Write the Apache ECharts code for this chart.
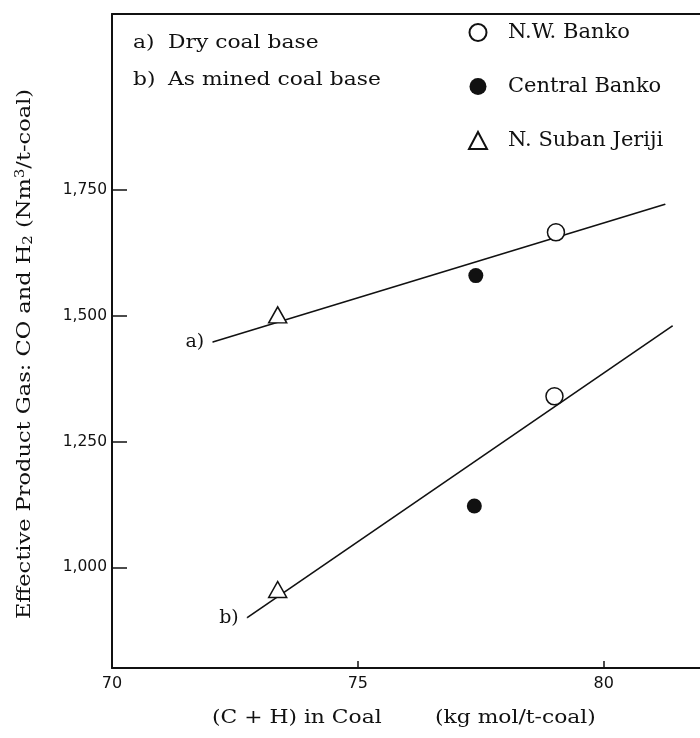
<!DOCTYPE html>
<html>
<head>
<meta charset="utf-8">
<script src="https://cdn.jsdelivr.net/npm/echarts@6/dist/echarts.min.js"></script>
<style>
  html, body { margin: 0; background: #fff; }
  #main { width: 700px; height: 738px; }
</style>
</head>
<body>
<!-- chart container -->
<div id="main"></div>
<script>
// x: (C + H) in coal, kg mol/t-coal ; y: effective product gas, Nm3/t-coal
// each coal: [a) dry base, b) as mined base]
const nwBanko = [[79.03, 1666], [79.0, 1340]]
const centralBanko = [[77.4, 1580], [77.37, 1122]]
const subanJeriji = [[73.37, 1502], [73.37, 956]]

// the two straight lines as drawn
const lineA = [[72.05, 1448], [81.25, 1722]]
const lineB = [[72.75, 900], [81.4, 1480]]

const xLabels = [70, 75, 80]
const xTicks = [75, 80]
const yTicks = [1000, 1250, 1500, 1750]

const ink = '#111'
const serif = 'DejaVu Serif'

function withStartLabel(points, text) {
  return points.map((p, i) => i === 0
    ? { value: p, label: { show: true, formatter: text, position: 'left', distance: 8,
        fontFamily: serif, fontSize: 19, color: ink } }
    : p)
}

// scanned lettering is wider than DejaVu Serif, so stretch it a little
function wideText(x, y, text, opts) {
  return Object.assign({
    type: 'text', x: x, y: y, scaleX: 1.18,
    style: { text: text, fontFamily: serif, fontSize: 18.5, fill: ink, verticalAlign: 'middle' }
  }, opts || {})
}

const chart = echarts.init(document.getElementById('main'))

const option = {
  animation: false,
  backgroundColor: '#fff',
  grid: { left: 112, right: -3, top: 14, bottom: 70 },
  legend: {
    data: ['N.W. Banko', 'Central Banko', 'N. Suban Jeriji'],
    orient: 'vertical',
    left: 463,
    top: 17,
    itemWidth: 18,
    itemHeight: 17,
    itemGap: 33,
    selectedMode: false,
    textStyle: { fontFamily: serif, fontSize: 21, color: ink, padding: [0, 0, 0, 16] }
  },
  xAxis: [
    {
      type: 'value',
      min: 70,
      max: 81.96,
      axisLine: { lineStyle: { color: ink, width: 2 } },
      axisTick: { customValues: xTicks, inside: true, length: 7, lineStyle: { color: ink, width: 1.5 } },
      axisLabel: { customValues: xLabels, margin: 8, fontFamily: 'DejaVu Sans', fontSize: 16, color: ink },
      splitLine: { show: false }
    },
    {
      // top frame line
      type: 'value',
      position: 'top',
      min: 70,
      max: 81.96,
      axisLine: { lineStyle: { color: ink, width: 2 } },
      axisTick: { show: false },
      axisLabel: { show: false },
      splitLine: { show: false }
    }
  ],
  yAxis: {
    type: 'value',
    min: 800,
    max: 2100,
    axisLine: { show: true, lineStyle: { color: ink, width: 2 } },
    axisTick: { customValues: yTicks, inside: true, length: 15, lineStyle: { color: ink, width: 1.5 } },
    axisLabel: {
      customValues: yTicks,
      margin: 5,
      fontFamily: 'DejaVu Sans',
      fontSize: 15.5,
      color: ink,
      formatter: v => v.toLocaleString('en-US')
    },
    splitLine: { show: false }
  },
  graphic: [
    wideText(133, 43, 'a)'),
    wideText(168, 43, 'Dry coal base'),
    wideText(133, 80, 'b)'),
    wideText(168, 80, 'As mined coal base'),
    wideText(212, 718, '(C + H) in Coal'),
    wideText(435, 718, '(kg mol/t-coal)'),
    {
      type: 'text',
      x: 25,
      y: 354,
      rotation: Math.PI / 2,
      scaleX: 1.25,
      style: {
        text: 'Effective Product Gas: CO and H{sub|2} (Nm{sup|3}/t-coal)',
        fontFamily: serif,
        fontSize: 18,
        fill: ink,
        align: 'center',
        verticalAlign: 'middle',
        rich: {
          sub: { fontFamily: serif, fontSize: 12, fill: ink, padding: [8, 0, 0, 0] },
          sup: { fontFamily: serif, fontSize: 12, fill: ink, padding: [0, 0, 8, 0] }
        }
      }
    }
  ],
  series: [
    {
      name: 'a) Dry coal base',
      type: 'line',
      data: withStartLabel(lineA, 'a)'),
      symbol: 'circle',
      symbolSize: 1,
      itemStyle: { color: ink },
      lineStyle: { color: ink, width: 1.6 },
      z: 2
    },
    {
      name: 'b) As mined coal base',
      type: 'line',
      data: withStartLabel(lineB, 'b)'),
      symbol: 'circle',
      symbolSize: 1,
      itemStyle: { color: ink },
      lineStyle: { color: ink, width: 1.6 },
      z: 2
    },
    {
      name: 'N.W. Banko',
      type: 'scatter',
      data: nwBanko,
      symbol: 'circle',
      symbolSize: 17,
      itemStyle: { color: '#fff', borderColor: ink, borderWidth: 1.5, opacity: 1 },
      z: 3
    },
    {
      name: 'Central Banko',
      type: 'scatter',
      data: centralBanko,
      symbol: 'circle',
      symbolSize: 15,
      itemStyle: { color: ink, opacity: 1 },
      z: 3
    },
    {
      name: 'N. Suban Jeriji',
      type: 'scatter',
      data: subanJeriji,
      symbol: 'triangle',
      symbolSize: [18, 16],
      itemStyle: { color: '#fff', borderColor: ink, borderWidth: 1.5, opacity: 1 },
      z: 3
    }
  ]
}

chart.setOption(option)
</script>
</body>
</html>
